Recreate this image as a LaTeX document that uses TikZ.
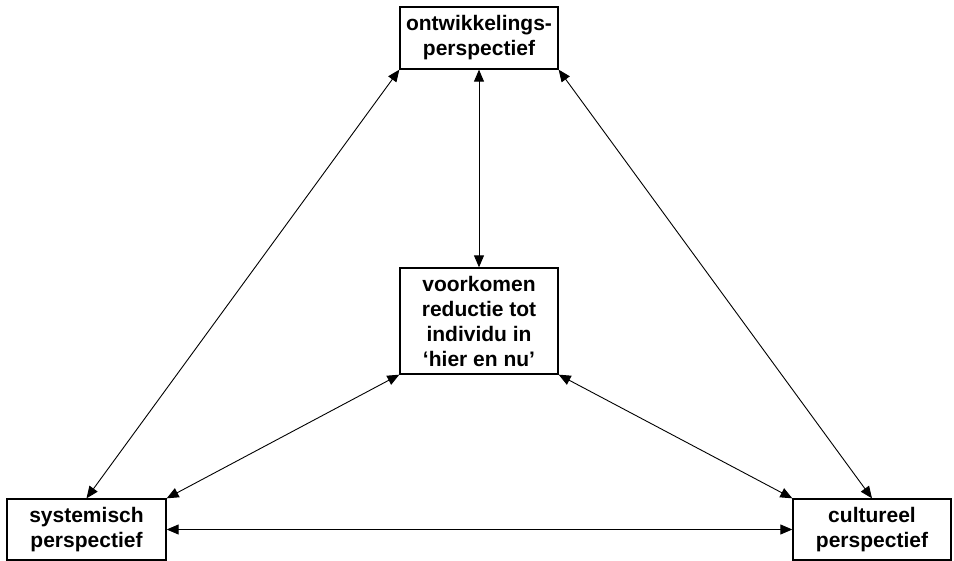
\documentclass[tikz,border=0pt]{standalone}
\usepackage{fontspec}
\setmainfont{Liberation Sans}
\usetikzlibrary{arrows.meta}
\begin{document}
\begin{tikzpicture}[x=1pt,y=-1pt,
  perspbox/.style={draw, line width=1.3pt, rectangle, inner sep=0pt,
    align=center, font=\fontsize{21}{25}\selectfont\bfseries},
  link/.style={line width=0.9pt, {Triangle[length=12pt,width=10pt]}-{Triangle[length=12pt,width=10pt]}}]
  \useasboundingbox (0,0) rectangle (954,561);
  \node[perspbox, minimum width=158pt, minimum height=62pt] (top) at (479,38) {ontwikkelings-\\perspectief};
  \node[perspbox, minimum width=158pt, minimum height=106pt] (mid) at (479,321) {voorkomen\\reductie tot\\individu in\\‘hier en nu’};
  \node[perspbox, minimum width=159pt, minimum height=61pt] (sys) at (86.5,529.5) {systemisch\\perspectief};
  \node[perspbox, minimum width=158pt, minimum height=61pt] (cul) at (872,529.5) {cultureel\\perspectief};
  \draw[link] (top.south west) -- (sys.north);
  \draw[link] (top.south east) -- (cul.north);
  \draw[link] (top.south) -- (mid.north);
  \draw[link] (mid.south west) -- (sys.north east);
  \draw[link] (mid.south east) -- (cul.north west);
  \draw[link] (sys.east) -- (cul.west);
\end{tikzpicture}
\end{document}
